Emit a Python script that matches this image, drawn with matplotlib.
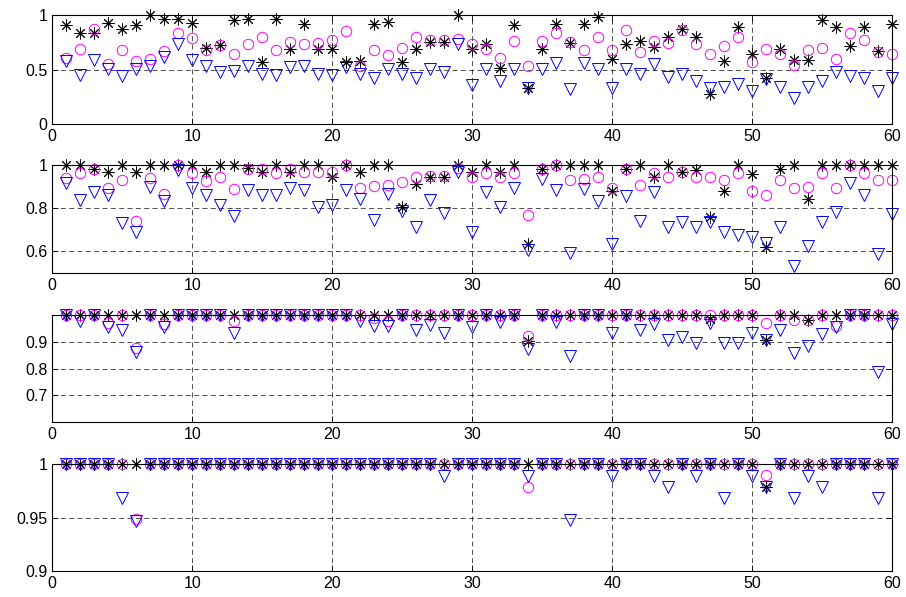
import matplotlib
matplotlib.use("Agg")
import matplotlib.pyplot as plt

plt.rcParams['font.family'] = ['Liberation Sans', 'DejaVu Sans']

x = list(range(1, 61))

# panel 1
p1_star = [0.905, 0.834, 0.834, 0.93, 0.874, 0.905, 1.0, 0.966, 0.966, 0.926,
           0.70, 0.727, 0.95, 0.96, 0.57, 0.96, 0.684, 0.92, 0.684, 0.69,
           0.567, 0.574, 0.914, 0.936, 0.567, 0.684, 0.75, 0.75, 1.0, 0.69,
           0.736, 0.512, 0.905, 0.328, 0.69, 0.92, 0.742, 0.92, 0.98, 0.592,
           0.736, 0.758, 0.706, 0.80, 0.874, 0.80, 0.276, 0.574, 0.89, 0.638,
           0.423, 0.69, 0.583, 0.583, 0.957, 0.89, 0.715, 0.89, 0.669, 0.92]
p1_circ = [0.604, 0.69, 0.874, 0.552, 0.675, 0.574, 0.598, 0.666, 0.837, 0.79,
           0.675, 0.727, 0.644, 0.736, 0.80, 0.675, 0.748, 0.733, 0.742, 0.767,
           0.85, 0.537, 0.675, 0.629, 0.70, 0.80, 0.767, 0.767, 0.78, 0.736,
           0.69, 0.604, 0.758, 0.53, 0.758, 0.834, 0.75, 0.675, 0.80, 0.675,
           0.865, 0.66, 0.758, 0.742, 0.859, 0.736, 0.638, 0.72, 0.80, 0.567,
           0.69, 0.638, 0.546, 0.675, 0.70, 0.598, 0.837, 0.773, 0.66, 0.638]
p1_tri = [0.577, 0.454, 0.589, 0.506, 0.44, 0.506, 0.53, 0.613, 0.733, 0.589,
          0.534, 0.475, 0.488, 0.534, 0.457, 0.45, 0.52, 0.534, 0.457, 0.45,
          0.52, 0.463, 0.426, 0.503, 0.457, 0.426, 0.503, 0.48, 0.733, 0.359,
          0.503, 0.396, 0.503, 0.334, 0.503, 0.564, 0.319, 0.558, 0.503, 0.334,
          0.503, 0.457, 0.549, 0.436, 0.457, 0.396, 0.33, 0.34, 0.365, 0.304,
          0.411, 0.34, 0.236, 0.344, 0.396, 0.482, 0.442, 0.426, 0.304, 0.426]

# panel 2
p2_star = [1.0, 1.0, 0.983, 0.968, 1.0, 0.968, 1.0, 1.0, 1.0, 1.0,
           0.97, 1.0, 1.0, 0.986, 0.968, 1.0, 0.968, 1.0, 1.0, 0.944,
           1.0, 0.97, 1.0, 1.0, 0.804, 0.912, 0.944, 0.944, 1.0, 0.97,
           1.0, 0.97, 1.0, 0.634, 0.983, 1.0, 1.0, 1.0, 1.0, 0.883,
           0.983, 1.0, 0.948, 1.0, 0.97, 0.978, 0.762, 0.881, 1.0, 0.96,
           0.619, 0.983, 1.0, 0.844, 1.0, 1.0, 1.0, 1.0, 1.0, 1.0]
p2_circ = [0.94, 0.963, 0.983, 0.897, 0.932, 0.742, 0.94, 0.866, 1.0, 0.966,
           0.927, 0.944, 0.892, 0.983, 0.983, 0.963, 0.983, 0.97, 0.97, 0.97,
           1.0, 0.894, 0.906, 0.909, 0.921, 0.944, 0.951, 0.951, 0.986, 0.948,
           0.963, 0.944, 0.963, 0.77, 0.983, 1.0, 0.932, 0.935, 0.944, 0.894,
           0.983, 0.909, 0.963, 0.948, 0.97, 0.944, 0.948, 0.932, 0.963, 0.883,
           0.863, 0.932, 0.894, 0.90, 0.963, 0.894, 1.0, 0.966, 0.932, 0.932]
p2_tri = [0.917, 0.838, 0.877, 0.864, 0.73, 0.688, 0.90, 0.833, 0.978, 0.896,
          0.864, 0.815, 0.764, 0.884, 0.864, 0.864, 0.896, 0.884, 0.804, 0.815,
          0.884, 0.843, 0.745, 0.866, 0.787, 0.711, 0.838, 0.779, 0.969, 0.69,
          0.877, 0.804, 0.896, 0.606, 0.935, 0.884, 0.591, 0.892, 0.835, 0.634,
          0.858, 0.742, 0.877, 0.715, 0.738, 0.715, 0.738, 0.69, 0.676, 0.668,
          0.637, 0.715, 0.534, 0.627, 0.738, 0.784, 0.92, 0.864, 0.588, 0.776]

# panel 3
p3_star = [1, 1, 1, 1, 1, 1, 1, 1, 1, 1,
           1, 1, 1, 1, 1, 1, 1, 1, 1, 1,
           1, 1, 1, 1, 1, 1, 1, 1, 1, 1,
           1, 1, 1, 0.904, 1, 1, 1, 1, 1, 1,
           1, 1, 1, 1, 1, 1, 0.985, 1, 1, 1,
           0.907, 1, 1, 0.983, 1, 1, 1, 1, 1, 1]
p3_circ = [1, 1, 1, 0.97, 1, 0.879, 1, 0.967, 1, 1,
           1, 1, 0.979, 1, 1, 1, 1, 1, 1, 1,
           1, 1, 0.99, 0.98, 1, 1, 1, 1, 1, 1,
           1, 1, 1, 0.922, 1, 1, 1, 1, 1, 1,
           1, 1, 1, 1, 1, 1, 1, 1, 1, 1,
           0.97, 1, 0.983, 0.983, 1, 0.96, 1, 1, 1, 1]
p3_tri = [1, 0.98, 1, 0.957, 0.946, 0.862, 1, 0.957, 1, 1,
          1, 1, 0.935, 1, 1, 1, 1, 1, 1, 1,
          1, 0.98, 0.96, 0.958, 1, 0.946, 0.965, 0.935, 1, 0.956,
          1, 0.975, 1, 0.875, 1, 0.975, 0.848, 1, 1, 0.935,
          1, 0.945, 0.966, 0.909, 0.919, 0.896, 0.969, 0.896, 0.896, 0.935,
          0.907, 0.944, 0.859, 0.884, 0.931, 0.955, 1, 1, 0.787, 0.966]

# panel 4
p4_star = [1, 1, 1, 1, 1, 1, 1, 1, 1, 1,
           1, 1, 1, 1, 1, 1, 1, 1, 1, 1,
           1, 1, 1, 1, 1, 1, 1, 1, 1, 1,
           1, 1, 1, 1, 1, 1, 1, 1, 1, 1,
           1, 1, 1, 1, 1, 1, 1, 1, 1, 1,
           0.979, 1, 1, 1, 1, 1, 1, 1, 1, 1]
p4_circ = [1, 1, 1, 1, 1, 0.949, 1, 1, 1, 1,
           1, 1, 1, 1, 1, 1, 1, 1, 1, 1,
           1, 1, 1, 1, 1, 1, 1, 1, 1, 1,
           1, 1, 1, 0.979, 1, 1, 1, 1, 1, 1,
           1, 1, 1, 1, 1, 1, 1, 1, 1, 1,
           0.99, 1, 1, 1, 1, 1, 1, 1, 1, 1]
p4_tri = [1, 1, 1, 1, 0.968, 0.947, 1, 1, 1, 1,
          1, 1, 1, 1, 1, 1, 1, 1, 1, 1,
          1, 1, 1, 1, 1, 1, 1, 0.9885, 1, 1,
          1, 1, 1, 0.989, 1, 1, 0.948, 1, 1, 0.989,
          1, 1, 0.989, 0.9785, 1, 0.989, 1, 0.968, 1, 0.989,
          0.979, 1, 0.968, 0.989, 0.9785, 1, 1, 1, 0.968, 1]

panels = [(p1_star, p1_circ, p1_tri), (p2_star, p2_circ, p2_tri),
          (p3_star, p3_circ, p3_tri), (p4_star, p4_circ, p4_tri)]
ylims = [(0, 1), (0.5, 1), (0.6, 1), (0.9, 1)]
yticks = [[0, 0.5, 1], [0.6, 0.8, 1], [0.7, 0.8, 0.9], [0.9, 0.95, 1]]
ylabels = [['0', '0.5', '1'], ['0.6', '0.8', '1'], ['0.7', '0.8', '0.9'], ['0.9', '0.95', '1']]

# axes boxes in figure fractions (left, bottom, width, height)
boxes = [(0.0577, 0.792, 0.927, 0.183), (0.0577, 0.543, 0.927, 0.180),
         (0.0577, 0.293, 0.927, 0.179), (0.0577, 0.0436, 0.927, 0.179)]

fig = plt.figure(figsize=(9.06, 5.97), dpi=100)

for (s, c, t), yl, yt, ylab, box in zip(panels, ylims, yticks, ylabels, boxes):
    ax = fig.add_axes(box)
    ax.plot(x, s, linestyle='none', marker=(8, 2, 0), markersize=8.5,
            markeredgecolor='k', markeredgewidth=0.7, clip_on=False)
    ax.plot(x, c, linestyle='none', marker='o', markersize=7.5,
            markerfacecolor='none', markeredgecolor='#ff00ff', markeredgewidth=0.7, clip_on=False)
    ax.plot(x, t, linestyle='none', marker='v', markersize=8.5,
            markerfacecolor='none', markeredgecolor='#0000ff', markeredgewidth=0.7, clip_on=False)
    ax.set_xlim(0, 60)
    ax.set_ylim(*yl)
    ax.set_xticks(range(0, 61, 10))
    ax.set_yticks(yt)
    ax.set_yticklabels(ylab)
    ax.grid(True, linestyle=(0, (6, 4)), color='k', linewidth=0.6, alpha=0.8)
    ax.tick_params(direction='in', top=True, right=True, labelsize=11.5, length=4, width=0.6)
    for sp in ax.spines.values():
        sp.set_linewidth(0.8)

fig.savefig('out.png', dpi=100)
